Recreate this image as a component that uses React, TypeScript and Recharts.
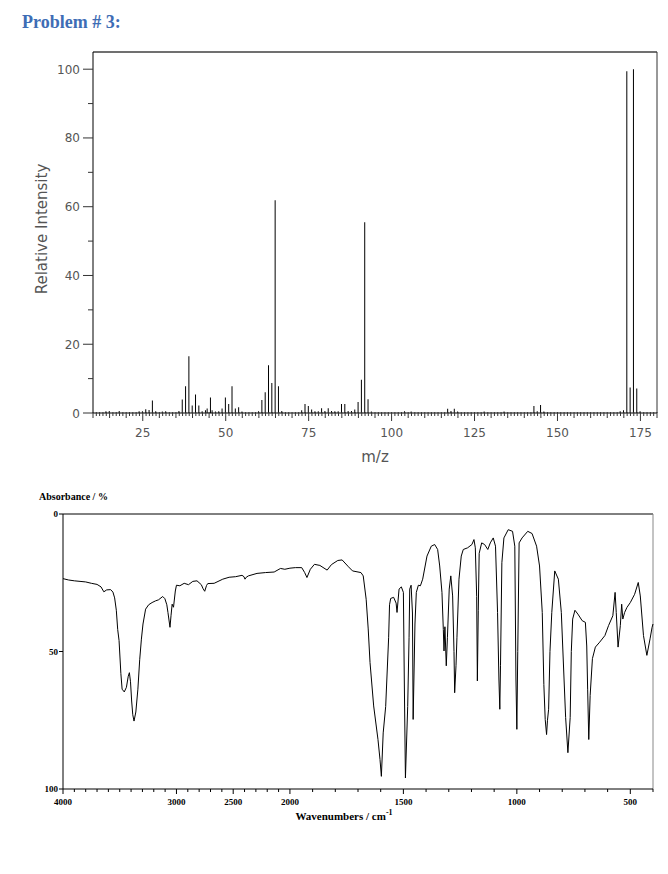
import React from 'react'
import { BarChart, Bar, XAxis, YAxis, ReferenceLine, LineChart, Line } from 'recharts'

// ---- mass spectrum ----
const massCharge = [
  14, 15, 18, 24, 25, 26, 27, 28, 29, 31, 32, 36, 37, 38, 39, 40, 41, 42, 43, 44, 44.5, 45.5, 46, 47, 48,
  49, 50, 51, 52, 53, 54, 55, 60, 61, 62, 63, 64, 65, 66, 67, 73, 74, 75, 76, 77, 78, 79, 80, 81, 82,
  83, 84, 85, 86, 87, 88, 89, 90, 91, 92, 93, 94, 104, 106, 117, 118, 119, 120, 128, 134, 143, 144, 145,
  146, 169, 170, 171, 172, 173, 174, 175,
]
const relIntensity = [
  0.5, 0.6, 0.6, 0.5, 0.5, 1.1, 0.9, 3.6, 0.5, 0.4, 0.5, 0.6, 3.9, 7.8, 16.5, 2.2, 5.4, 2.2, 0.5, 0.8, 1.3, 4.5, 0.8, 0.4, 0.5,
  1.3, 4.5, 2.6, 7.8, 1.3, 1.7, 0.4, 0.5, 3.8, 6, 13.9, 8.7, 61.9, 7.8, 0.6, 0.8, 2.6, 2, 1, 0.5, 0.5, 1.4, 0.6, 1.4, 0.6,
  0.5, 0.5, 2.6, 2.6, 0.6, 0.6, 1, 3.2, 9.7, 55.5, 4, 0.4, 0.5, 0.4, 1.2, 0.6, 1.2, 0.4, 0.4, 0.4, 2, 0.5, 2.3,
  0.4, 0.5, 0.8, 99.4, 7.4, 100, 7.1, 0.5,
]
const msXTicks = Array.from({ length: 171 }, (_, i) => 10 + i)
const msYTicks = [0, 10, 20, 30, 40, 50, 60, 70, 80, 90, 100]

// ---- IR spectrum ----
const irWavenumber = [
  4000, 3950, 3900, 3850, 3800, 3750, 3700, 3665, 3640, 3615, 3580, 3560, 3545, 3530, 3518, 3506, 3490, 3479, 3460, 3441,
  3425, 3415, 3405, 3395, 3385, 3374, 3358, 3340, 3324, 3309, 3295, 3272, 3245, 3215, 3185, 3158, 3121, 3102, 3085, 3075,
  3057, 3048, 3038, 3026, 3010, 3000, 2970, 2932, 2894, 2856, 2819, 2781, 2765, 2751, 2735, 2724, 2668, 2592, 2536, 2479,
  2422, 2405, 2396, 2385, 2366, 2290, 2215, 2139, 2083, 2045, 2000, 1976, 1948, 1935, 1925, 1910, 1892, 1868, 1836, 1817,
  1789, 1770, 1742, 1724, 1687, 1677, 1664, 1655, 1647, 1631, 1612, 1603, 1597, 1589, 1578, 1565, 1561, 1556, 1543, 1532,
  1528, 1519, 1509, 1500, 1496, 1491, 1481, 1475, 1472, 1466, 1460, 1457, 1449, 1443, 1434, 1425, 1415, 1396, 1377, 1362,
  1349, 1340, 1330, 1324, 1321, 1317, 1311, 1306, 1298, 1291, 1283, 1277, 1274, 1268, 1264, 1255, 1245, 1236, 1217, 1198,
  1189, 1183, 1177, 1174, 1170, 1166, 1155, 1142, 1128, 1117, 1104, 1094, 1085, 1079, 1075, 1072, 1066, 1057, 1038, 1019,
  1009, 1004, 1000, 996, 990, 977, 952, 933, 913, 900, 888, 881, 875, 869, 865, 860, 854, 846, 833, 817,
  804, 792, 785, 775, 765, 760, 754, 744, 731, 712, 698, 692, 688, 683, 677, 667, 654, 635, 612, 596,
  577, 567, 562, 554, 544, 538, 533, 525, 515, 500, 481, 465, 456, 442, 427, 413, 404, 400,
]
const irAbsorbance = [
  23.5, 24.0, 24.3, 24.5, 24.7, 25.2, 25.6, 26.5, 28.3, 27.6, 27.5, 28.4, 30.5, 35, 42, 46, 58, 63.7, 64.7, 63,
  59, 57.7, 61, 68, 73, 75.3, 72, 63.7, 53, 45.5, 40, 34.6, 33, 32.2, 31.6, 31.2, 30.0, 30.8, 33, 35.8,
  41.2, 37, 32.8, 33.9, 28, 25.9, 26.1, 25.2, 25.7, 24.5, 24.3, 25.7, 27.2, 28.1, 26, 25.3, 25.2, 23.7, 23.0, 22.8,
  22.3, 22.8, 23.7, 23, 22.5, 21.6, 21.3, 21.1, 19.8, 20.1, 19.7, 19.5, 19.5, 21.3, 23.1, 20.1, 18.3, 18.7, 20.4, 18.4,
  16.9, 16.7, 19.2, 20.7, 21.3, 22.5, 31, 41.8, 54, 69.8, 82, 89.3, 95.4, 79.6, 70, 45, 33, 30.7, 30.3, 32.4,
  35.8, 27.3, 26.5, 28.5, 60, 96, 70, 45, 27.3, 25.9, 36, 74.7, 40, 28.5, 25.9, 26.1, 23.7, 15.3, 11.7, 11.1,
  12.9, 18.9, 28.5, 42, 49.8, 41, 55.2, 45, 27.3, 22.5, 29.8, 50, 65, 55, 45, 23.7, 15.3, 12.9, 12.3, 11.1,
  9.3, 12.3, 30, 60.7, 35, 14.3, 10.5, 11.1, 12.9, 10.5, 8.7, 11.7, 35.8, 60, 71, 55, 17.7, 8.7, 5.7, 6.3,
  11.7, 60, 78.3, 50, 10.5, 8.7, 6.3, 7.1, 11.7, 18.9, 35.8, 62, 74.7, 80.2, 75, 71, 50, 35.8, 20.7, 23.7,
  35.8, 60, 74, 86.8, 74, 50, 38.2, 35, 36.4, 38.8, 39.4, 48, 63.7, 82, 66, 52.6, 48.4, 46.6, 44.2, 40.6,
  37, 28.5, 35.8, 48.4, 40.6, 32.8, 38.2, 35.8, 34, 32.2, 29.2, 24.9, 29.8, 44.2, 51.4, 45.4, 41.2, 40,
]
const irXTicks = Array.from({ length: 37 }, (_, i) => 4000 - i * 100)
const irXLabels = [4000, 3000, 2500, 2000, 1500, 1000, 500]
const irYTicks = [0, 50, 100]

// above 2000 cm-1 the axis is drawn at half scale
const toAxis = (w: number) => (w > 2000 ? 2000 + (w - 2000) / 2 : w)
const fromAxis = (t: number) => (t > 2000 ? 2000 + (t - 2000) * 2 : t)

const msData = massCharge.map((mz, i) => ({ mz, value: relIntensity[i] }))
const irData = irWavenumber.map((w, i) => ({ t: toAxis(w), value: irAbsorbance[i] }))

const sans = '"DejaVu Sans", Verdana, sans-serif'
const serif = '"Liberation Serif", "Times New Roman", serif'

function MsXTick(props: any) {
  const { x, y, payload } = props
  const v = payload.value
  const len = v % 25 === 0 ? 8 : v % 5 === 0 ? 5 : 3
  return (
    <g>
      <line x1={x} x2={x} y1={y - 1} y2={y + len} stroke="#333" />
      {v % 25 === 0 && (
        <text x={x} y={y + 24} textAnchor="middle" fontSize={12} fontFamily={sans} fill="#555">
          {v}
        </text>
      )}
    </g>
  )
}

function MsYTick(props: any) {
  const { x, y, payload } = props
  const v = payload.value
  const major = v % 20 === 0
  return (
    <g>
      <line x1={x - (major ? 10 : 5)} x2={x} y1={y} y2={y} stroke="#333" />
      {major && (
        <text x={x - 13} y={y + 4.5} textAnchor="end" fontSize={12} fontFamily={sans} fill="#555">
          {v}
        </text>
      )}
    </g>
  )
}

function IrXTick(props: any) {
  const { x, y, payload } = props
  const w = Math.round(fromAxis(payload.value))
  const labeled = irXLabels.includes(w)
  return (
    <g>
      <line x1={x} x2={x} y1={y} y2={y + (labeled ? 5 : 3)} stroke="#000" />
      {labeled && (
        <text x={x} y={y + 16} textAnchor="middle" fontSize={9} fontWeight="bold" fontFamily={serif} fill="#000">
          {w}
        </text>
      )}
    </g>
  )
}

function IrYTick(props: any) {
  const { x, y, payload } = props
  return (
    <g>
      <line x1={x - 4} x2={x} y1={y} y2={y} stroke="#000" />
      <text x={x - 5} y={y + 3} textAnchor="end" fontSize={9} fontWeight="bold" fontFamily={serif} fill="#000">
        {payload.value}
      </text>
    </g>
  )
}

const abs: React.CSSProperties = { position: 'absolute', whiteSpace: 'nowrap' }

export default function App() {
  return (
    <div style={{ position: 'absolute', left: 0, top: 0, width: 668, height: 874, background: '#fff' }}>
      <div
        style={{ ...abs, left: 22, top: 12, fontFamily: serif, fontWeight: 'bold', fontSize: 18, color: '#3e6db5' }}
      >
        Problem # 3:
      </div>

      <div style={{ ...abs, left: 0, top: 0 }}>
        <BarChart width={668} height={480} data={msData} margin={{ top: 52, right: 11, bottom: 37, left: 33 }}>
          <XAxis
            dataKey="mz"
            type="number"
            domain={[10, 180]}
            ticks={msXTicks}
            interval={0}
            height={30}
            tickSize={0}
            tickMargin={0}
            tickLine={false}
            tick={MsXTick}
            axisLine={{ stroke: '#000' }}
          />
          <YAxis
            type="number"
            domain={[0, 105]}
            ticks={msYTicks}
            interval={0}
            width={60}
            tickSize={0}
            tickMargin={0}
            tickLine={false}
            tick={MsYTick}
            axisLine={{ stroke: '#000' }}
          />
          <ReferenceLine y={105} stroke="#707070" strokeWidth={2} />
          <ReferenceLine x={180} stroke="#333" />
          <Bar dataKey="value" fill="#000" barSize={1} isAnimationActive={false} />
        </BarChart>
      </div>
      <div
        style={{
          ...abs,
          left: 42,
          top: 229,
          transform: 'translate(-50%, -50%) rotate(-90deg)',
          fontFamily: sans,
          fontSize: 15,
          color: '#555',
        }}
      >
        Relative Intensity
      </div>
      <div style={{ ...abs, left: 375, top: 448, transform: 'translateX(-50%)', fontFamily: sans, fontSize: 15, color: '#555' }}>
        m/z
      </div>

      <div style={{ ...abs, left: 39, top: 491, fontFamily: serif, fontWeight: 'bold', fontSize: 10 }}>
        Absorbance / %
      </div>
      <div style={{ ...abs, left: 0, top: 490 }}>
        <LineChart width={668} height={340} data={irData} margin={{ top: 24, right: 15, bottom: 11, left: 13 }}>
          <XAxis
            dataKey="t"
            type="number"
            domain={[400, 3000]}
            reversed
            ticks={irXTicks.map(toAxis)}
            interval={0}
            height={30}
            tickSize={0}
            tickMargin={0}
            tickLine={false}
            tick={IrXTick}
            axisLine={{ stroke: '#000' }}
          />
          <YAxis
            type="number"
            domain={[0, 100]}
            reversed
            ticks={irYTicks}
            interval={0}
            width={50}
            tickSize={0}
            tickMargin={0}
            tickLine={false}
            tick={IrYTick}
            axisLine={{ stroke: '#000' }}
          />
          <ReferenceLine y={0} stroke="#000" />
          <ReferenceLine x={400} stroke="#888" />
          <Line
            dataKey="value"
            type="linear"
            stroke="#000"
            strokeWidth={1}
            dot={false}
            isAnimationActive={false}
          />
        </LineChart>
      </div>
      <div
        style={{
          ...abs,
          left: 344,
          top: 808,
          transform: 'translateX(-50%)',
          fontFamily: serif,
          fontWeight: 'bold',
          fontSize: 11,
        }}
      >
        Wavenumbers / cm<sup style={{ fontSize: 8 }}>-1</sup>
      </div>
    </div>
  )
}
